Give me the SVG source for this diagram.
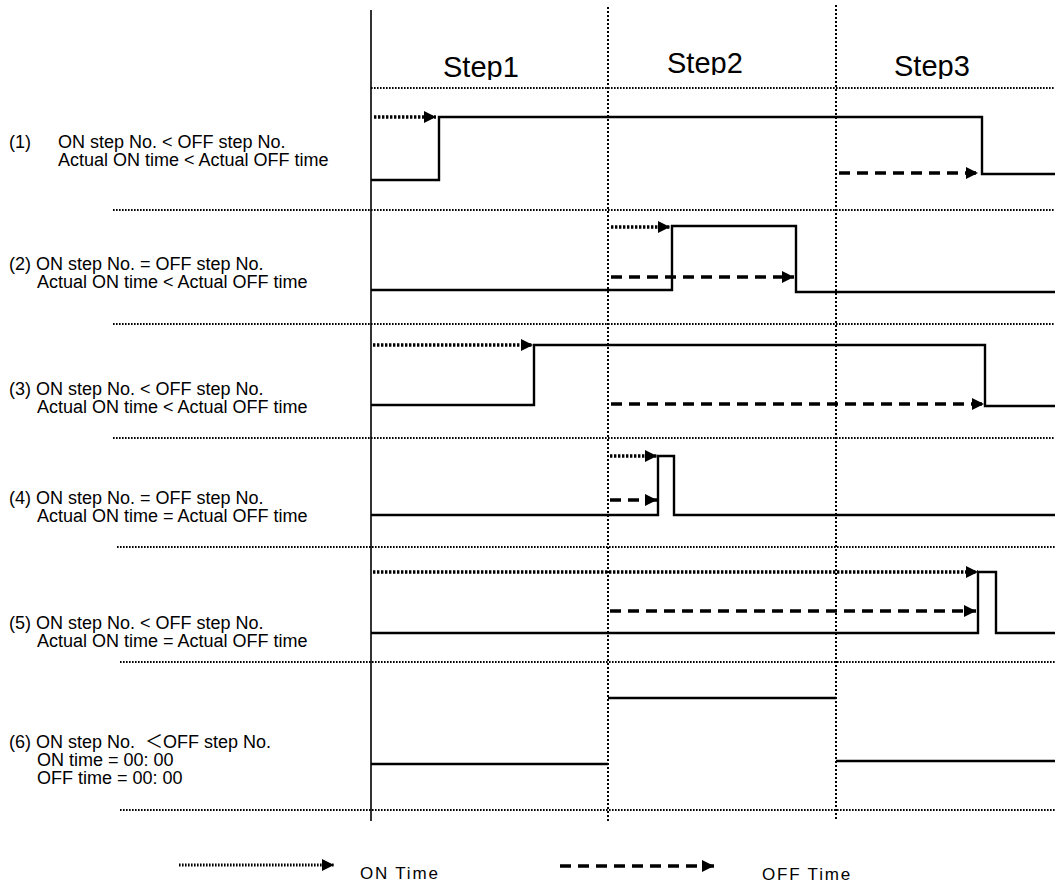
<svg xmlns="http://www.w3.org/2000/svg" width="1055" height="884" viewBox="0 0 1055 884">
<style>
text{font-family:"Liberation Sans",Arial,"Noto Sans CJK JP",sans-serif;fill:#000}
.lbl{font-size:18px}
.step{font-size:29px}
.leg{font-size:17px;letter-spacing:1.8px}
.axis{stroke:#000;stroke-width:1.6;fill:none}
.vdot{stroke:#000;stroke-width:2;stroke-dasharray:2 2;fill:none}
.hdot{stroke:#000;stroke-width:2;stroke-dasharray:1.6 1.4;fill:none}
.sig{stroke:#000;stroke-width:2.4;fill:none}
.on{stroke:#000;stroke-width:3.4;stroke-dasharray:2.4 1.6;fill:none;marker-end:url(#ah)}
.off{stroke:#000;stroke-width:3.5;stroke-dasharray:11 7;fill:none;marker-end:url(#ah)}
</style>
<defs>
<marker id="ah" markerUnits="userSpaceOnUse" markerWidth="12" markerHeight="12" refX="12" refY="6" orient="auto">
<path d="M0,0 L12,6 L0,12 Z" fill="#000"/>
</marker>
<clipPath id="c1"><rect x="430" y="40" width="110" height="40"/></clipPath>
<clipPath id="c2"><rect x="655" y="35" width="110" height="40"/></clipPath>
<clipPath id="c3"><rect x="880" y="40" width="110" height="39"/></clipPath>
</defs>
<rect width="1055" height="884" fill="#fff"/>

<g id="grid">
<line class="axis" x1="371" y1="10" x2="371" y2="821"/>
<line class="vdot" x1="608" y1="7" x2="608" y2="821"/>
<line class="vdot" x1="836" y1="5" x2="836" y2="821"/>
<line class="hdot" x1="371" y1="88" x2="1055" y2="88"/>
<line class="hdot" x1="113" y1="210" x2="1055" y2="210"/>
<line class="hdot" x1="113" y1="324" x2="1055" y2="324"/>
<line class="hdot" x1="113" y1="438" x2="1055" y2="438"/>
<line class="hdot" x1="117" y1="547" x2="1055" y2="547"/>
<line class="hdot" x1="120" y1="662" x2="1055" y2="662"/>
<line class="hdot" x1="120" y1="810" x2="1055" y2="810"/>
</g>

<g id="steps">
<text class="step" x="443" y="77" clip-path="url(#c1)">Step1</text>
<text class="step" x="667" y="73" clip-path="url(#c2)">Step2</text>
<text class="step" x="894" y="76" clip-path="url(#c3)">Step3</text>
</g>

<g id="row1">
<text class="lbl" x="9" y="148">(1)</text>
<text class="lbl" x="58" y="148">ON step No. &lt; OFF step No.</text>
<text class="lbl" x="58" y="166">Actual ON time &lt; Actual OFF time</text>
<path class="sig" d="M371,180 H439 V117 H982 V174 H1055"/>
</g>
<g id="row2">
<text class="lbl" x="9" y="270">(2) ON step No. = OFF step No.</text>
<text class="lbl" x="37" y="288">Actual ON time &lt; Actual OFF time</text>
<path class="sig" d="M371,290 H672 V226 H796 V292 H1055"/>
</g>
<g id="row3">
<text class="lbl" x="9" y="395">(3) ON step No. &lt; OFF step No.</text>
<text class="lbl" x="37" y="413">Actual ON time &lt; Actual OFF time</text>
<path class="sig" d="M371,405 H534 V345 H985 V406 H1055"/>
</g>
<g id="row4">
<text class="lbl" x="9" y="504">(4) ON step No. = OFF step No.</text>
<text class="lbl" x="37" y="522">Actual ON time = Actual OFF time</text>
<path class="sig" d="M371,515 H658 V456 H674 V515 H1055"/>
</g>
<g id="row5">
<text class="lbl" x="9" y="629">(5) ON step No. &lt; OFF step No.</text>
<text class="lbl" x="37" y="647">Actual ON time = Actual OFF time</text>
<path class="sig" d="M371,633 H978 V572 H996 V633 H1055"/>
</g>
<g id="row6">
<text class="lbl" x="9" y="748" xml:space="preserve">(6) ON step No.  ＜OFF step No.</text>
<text class="lbl" x="37" y="766">ON time = 00: 00</text>
<text class="lbl" x="37" y="784">OFF time = 00: 00</text>
<path class="sig" d="M371,764 H608 M608,698 H836 M836,761 H1055"/>
</g>

<g id="connectors">
<line class="on" x1="374" y1="117" x2="436" y2="117"/>
<line class="off" x1="839" y1="173" x2="978" y2="173"/>
<line class="on" x1="611" y1="227" x2="670" y2="227"/>
<line class="off" x1="611" y1="277" x2="794" y2="277"/>
<line class="on" x1="373" y1="345" x2="533" y2="345"/>
<line class="off" x1="611" y1="404" x2="984" y2="404"/>
<line class="on" x1="610" y1="456" x2="657" y2="456"/>
<line class="off" x1="610" y1="500" x2="657" y2="500"/>
<line class="on" x1="373" y1="572" x2="978" y2="572"/>
<line class="off" x1="610" y1="611" x2="976" y2="611"/>
</g>

<g id="legend">
<line class="on" x1="179" y1="865" x2="334" y2="865" style="stroke-width:2.8;stroke-dasharray:1.6 1.4"/>
<text class="leg" x="360" y="879">ON Time</text>
<line class="off" x1="560" y1="866" x2="714" y2="866"/>
<text class="leg" x="762" y="880">OFF Time</text>
</g>
</svg>
